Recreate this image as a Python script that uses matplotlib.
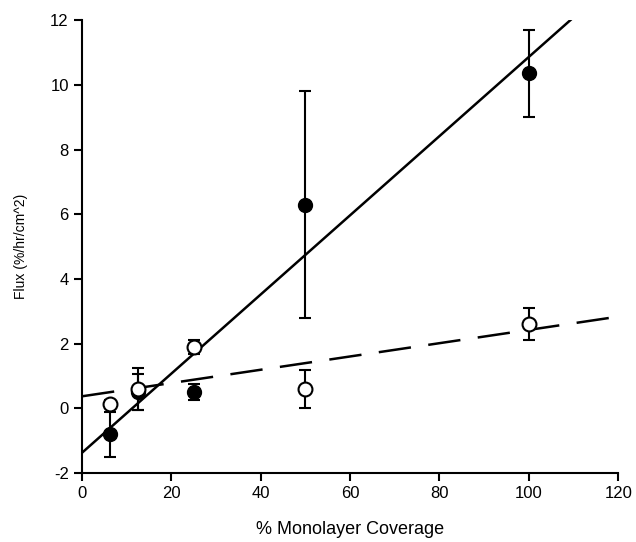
import numpy as np
import matplotlib
matplotlib.use('Agg')
import matplotlib.pyplot as plt

# data
coverage = [6.25, 12.5, 25, 50, 100]
flux_filled = [-0.8, 0.5, 0.5, 6.3, 10.35]
err_filled = [0.7, 0.55, 0.25, 3.5, 1.35]
flux_open = [0.15, 0.6, 1.9, 0.6, 2.6]
err_open = [0.1, 0.65, 0.22, 0.6, 0.5]

plt.rcParams['font.family'] = ['Liberation Sans', 'DejaVu Sans']
plt.rcParams['axes.unicode_minus'] = False

fig = plt.figure(figsize=(6.36, 5.42), dpi=100)
ax = fig.add_axes([0.129, 0.127, 0.843, 0.836])

# linear fits
x = np.array(coverage)
k1, b1 = np.polyfit(x, flux_filled, 1)
k2, b2 = np.polyfit(x, flux_open, 1)
xs = np.array([0, 120])
ax.plot(xs, k1 * xs + b1, color='black', lw=1.8, zorder=2)
ax.plot(xs, k2 * xs + b2, color='black', lw=1.8, dashes=(13, 7), zorder=2)

ax.errorbar(coverage, flux_filled, yerr=err_filled, fmt='o', color='black',
            ms=10, mfc='black', mec='black', ecolor='black', elinewidth=1.5,
            capsize=4, capthick=1.5, zorder=3)
ax.errorbar(coverage, flux_open, yerr=err_open, fmt='o', color='black',
            ms=10, mfc='white', mec='black', mew=1.5, ecolor='black',
            elinewidth=1.5, capsize=4, capthick=1.5, zorder=4)

ax.set_xlim(0, 120)
ax.set_ylim(-2, 12)
ax.set_xticks(range(0, 121, 20))
ax.set_yticks(range(-2, 13, 2))
for s in ['top', 'right']:
    ax.spines[s].set_visible(False)
for s in ['left', 'bottom']:
    ax.spines[s].set_linewidth(1.5)
ax.tick_params(direction='out', length=6, width=1.5, labelsize=12)
ax.set_xlabel('% Monolayer Coverage', fontsize=13, labelpad=14)
ax.set_ylabel('Flux (%/hr/cm^2)', fontsize=10, labelpad=16)

fig.savefig('out.png', dpi=100)
